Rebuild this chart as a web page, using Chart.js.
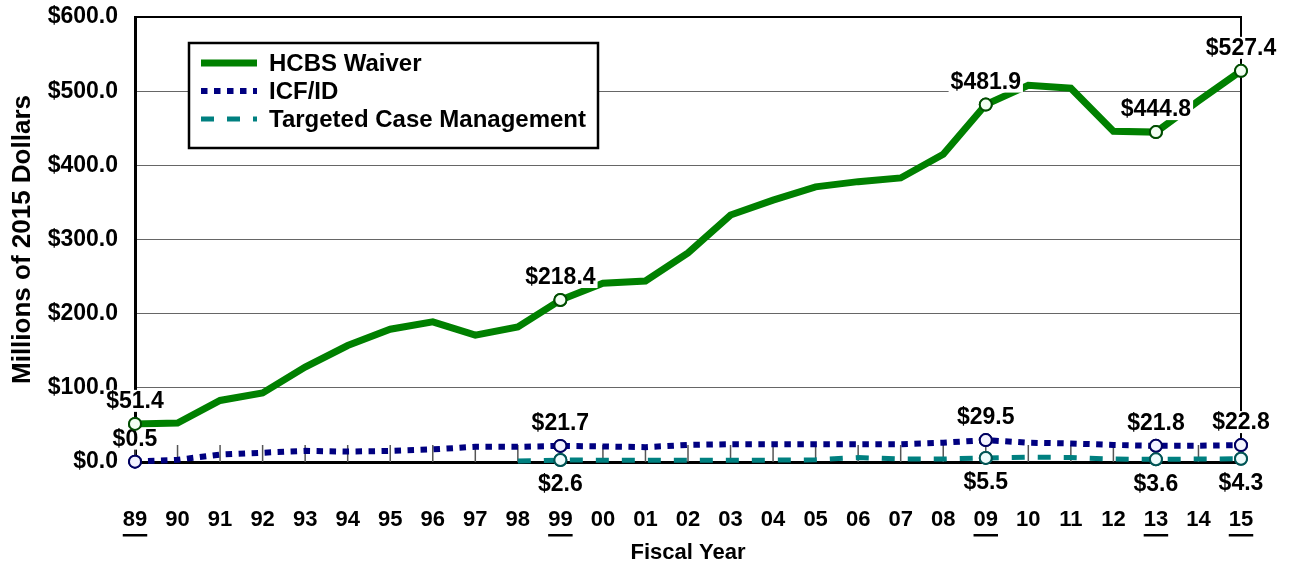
<!DOCTYPE html>
<html lang="en">
<head>
  <meta charset="UTF-8">
  <title>HCBS Waiver, ICF/ID and Targeted Case Management</title>
  <script src="https://cdn.jsdelivr.net/npm/chart.js"></script>
  <style>
    body { margin: 0; background: #fff; }
    #wrap { width: 1289px; height: 570px; }
    .warm { position: absolute; left: -999px; font-weight: bold; }
  </style>
</head>
<body>
  <span class="warm" style="font-family:'Liberation Sans'">x</span>
  <span class="warm" style="font-family:'Liberation Sans Narrow'">x</span>
  <div id="wrap"><canvas id="chart" width="1289" height="570"></canvas></div>

  <script>
    const years = ["89","90","91","92","93","94","95","96","97","98","99","00","01","02",
                   "03","04","05","06","07","08","09","10","11","12","13","14","15"];
    const underlined = ["89","99","09","13","15"];

    const hcbs = [51.4, 52.6, 83, 93, 128, 157, 179, 189, 171, 182, 218.4, 241, 244, 282,
                  333, 353, 371, 378, 383, 415, 481.9, 508, 504, 446, 444.8, 487, 527.4];
    const icf = [0.5, 3, 10, 12.5, 15, 14, 15, 17, 20.5, 20.5, 21.7, 21, 20, 23,
                 24, 24, 24, 24, 24, 26, 29.5, 26, 25, 23, 21.8, 22, 22.8];
    const tcm = [null, null, null, null, null, null, null, null, null, 1.5, 2.6, 2.5, 2.5, 2.5,
                 2.5, 2.5, 3, 6, 4, 4, 5.5, 6.5, 6, 4, 3.6, 4, 4.3];

    const seriesNames = ["HCBS Waiver", "ICF/ID", "Targeted Case Management"];
    const yTicks = [0, 100, 200, 300, 400, 500, 600];

    // points that carry a value label: [dataset, index, above/below]
    const labelled = [
      [0, 0, "above"], [0, 10, "above"], [0, 20, "above"], [0, 24, "above"], [0, 26, "above"],
      [1, 0, "above"], [1, 10, "above"], [1, 20, "above"], [1, 24, "above"], [1, 26, "above"],
      [2, 10, "below"], [2, 20, "below"], [2, 24, "below"], [2, 26, "below"]
    ];

    const GREEN = "#008000", NAVY = "#000080", TEAL = "#008080";
    const FONT = "'Liberation Sans', Arial, sans-serif";
    const NARROW = "'Liberation Sans Narrow', 'Arial Narrow', 'Liberation Sans', sans-serif";

    function radii(ds) {
      return years.map((_, i) => labelled.some(l => l[0] === ds && l[1] === i) ? 6 : 0);
    }

    const extras = {
      id: "extras",
      beforeDatasetsDraw(chart) {
        const { ctx, chartArea: a, scales: { x } } = chart;
        ctx.save();
        // inward tick marks on the x axis
        ctx.strokeStyle = "#555";
        ctx.lineWidth = 1.5;
        years.forEach((_, i) => {
          const px = x.getPixelForValue(i);
          ctx.beginPath();
          ctx.moveTo(px, a.bottom);
          ctx.lineTo(px, a.bottom - 17);
          ctx.stroke();
        });
        // top and right frame
        ctx.strokeStyle = "#000";
        ctx.lineWidth = 2;
        ctx.beginPath();
        ctx.moveTo(a.left, a.top);
        ctx.lineTo(a.right, a.top);
        ctx.lineTo(a.right, a.bottom);
        ctx.stroke();
        ctx.restore();
      },
      afterDatasetsDraw(chart) {
        const { ctx, chartArea: a, scales: { x } } = chart;
        ctx.save();
        // value labels with white boxes
        ctx.font = "bold 23px " + FONT;
        ctx.textAlign = "center";
        ctx.textBaseline = "middle";
        labelled.forEach(([d, i, pos]) => {
          const pt = chart.getDatasetMeta(d).data[i];
          const v = chart.data.datasets[d].data[i];
          const txt = "$" + v.toFixed(1);
          const cy = pos === "above" ? pt.y - 23 : pt.y + 24;
          const w = ctx.measureText(txt).width;
          ctx.fillStyle = "#fff";
          ctx.fillRect(pt.x - w / 2 - 2, cy - 11, w + 4, 22);
          ctx.fillStyle = "#000";
          ctx.fillText(txt, pt.x, cy + 1);
        });
        // redraw markers above label boxes
        labelled.forEach(([d, i]) => chart.getDatasetMeta(d).data[i].draw(ctx, a));

        // underline selected years
        ctx.font = "bold 22px " + NARROW;
        ctx.fillStyle = "#000";
        underlined.forEach(y => {
          const i = years.indexOf(y);
          const px = x.getPixelForValue(i);
          const w = ctx.measureText(y).width;
          ctx.fillRect(px - w / 2, a.bottom + 72, w, 2.5);
        });

        // legend box
        const lx = a.left + 54, ly = a.top + 26, lw = 409, lh = 105;
        ctx.fillStyle = "#fff";
        ctx.fillRect(lx, ly, lw, lh);
        ctx.strokeStyle = "#000";
        ctx.lineWidth = 2.5;
        ctx.strokeRect(lx, ly, lw, lh);
        const styles = [
          { c: GREEN, w: 7, dash: [] },
          { c: NAVY, w: 6, dash: [6.5, 6.5] },
          { c: TEAL, w: 5, dash: [13, 13] }
        ];
        ctx.font = "bold 24px " + FONT;
        ctx.textAlign = "left";
        seriesNames.forEach((n, k) => {
          const ry = ly + 20 + k * 28;
          ctx.strokeStyle = styles[k].c;
          ctx.lineWidth = styles[k].w;
          ctx.setLineDash(styles[k].dash);
          ctx.beginPath();
          ctx.moveTo(lx + 12, ry);
          ctx.lineTo(lx + 68, ry);
          ctx.stroke();
          ctx.setLineDash([]);
          ctx.fillStyle = "#000";
          ctx.fillText(n, lx + 80, ry + 1);
        });
        ctx.restore();
      }
    };

    function build() {
      new Chart(document.getElementById("chart"), {
        type: "line",
        data: {
          labels: years,
          datasets: [
            {
              label: seriesNames[0], data: hcbs, borderColor: GREEN, borderWidth: 7,
              pointRadius: radii(0), pointBackgroundColor: "#f2fff2", pointBorderColor: "#004d00",
              pointBorderWidth: 2, tension: 0, clip: false
            },
            {
              label: seriesNames[1], data: icf, borderColor: NAVY, borderWidth: 6,
              borderDash: [6.5, 6.5], pointRadius: radii(1), pointBackgroundColor: "#f4f4ff",
              pointBorderColor: "#000060", pointBorderWidth: 2, tension: 0, clip: false
            },
            {
              label: seriesNames[2], data: tcm, borderColor: TEAL, borderWidth: 5,
              borderDash: [13, 13], pointRadius: radii(2), pointBackgroundColor: "#eefcfc",
              pointBorderColor: "#005555", pointBorderWidth: 2, tension: 0, clip: false
            }
          ]
        },
        options: {
          responsive: false,
          animation: false,
          events: [],
          layout: { padding: { top: 17, right: 48, left: 0, bottom: 0 } },
          plugins: { legend: { display: false }, tooltip: { enabled: false } },
          scales: {
            x: {
              offset: false,
              grid: { display: false, drawTicks: false },
              border: { display: true, color: "#000", width: 3 },
              ticks: {
                autoSkip: false, maxRotation: 0, padding: 45, color: "#000",
                font: { family: NARROW, size: 22, weight: "bold" }
              },
              title: {
                display: true, text: "Fiscal Year", color: "#000",
                font: { family: NARROW, size: 22, weight: "bold" },
                padding: { top: 0, bottom: 4 }
              },
              afterFit(s) { s.height = 108; s.paddingLeft = 0; s.paddingRight = 0; }
            },
            y: {
              min: 0, max: 600,
              afterBuildTicks(s) { s.ticks = yTicks.map(v => ({ value: v })); },
              grid: { color: "#666", lineWidth: 1, drawTicks: false },
              border: { display: true, color: "#000", width: 3 },
              ticks: {
                padding: 17, color: "#000",
                font: { family: FONT, size: 23, weight: "bold" },
                callback: v => "$" + Number(v).toFixed(1)
              },
              title: {
                display: true, text: "Millions of 2015 Dollars", color: "#000",
                font: { family: FONT, size: 26, weight: "bold" },
                padding: { top: 7, bottom: 0 }
              },
              afterFit(s) { s.width = 135; s.paddingTop = 0; s.paddingBottom = 0; }
            }
          }
        },
        plugins: [extras]
      });
    }

    Promise.all([
      document.fonts.load("bold 22px 'Liberation Sans'"),
      document.fonts.load("bold 20px 'Liberation Sans Narrow'")
    ]).then(build, build);
  </script>
</body>
</html>
